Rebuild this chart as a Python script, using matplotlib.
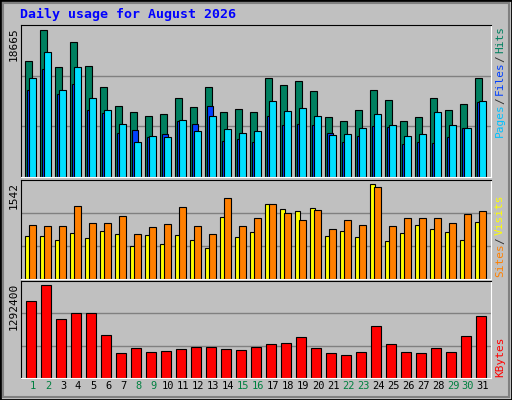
import numpy as np
import matplotlib
matplotlib.use("Agg")
import matplotlib.pyplot as plt
from matplotlib.patches import Rectangle

# ─────────────────────────────────────────────
# DATA
# ─────────────────────────────────────────────
days = list(range(1, 32))
weekend_days = [1, 2, 8, 9, 15, 16, 22, 23, 29, 30]

hits = [14285, 18091, 13548, 16618, 13671, 11092, 8759, 8022, 7531, 7777, 9741,
        8636, 11092, 8022, 8391, 8022, 12197, 11338, 11829, 10601, 7408, 6917,
        8268, 10724, 9496, 6917, 7408, 9741, 8268, 9005, 12197]
files = [12197, 15390, 10724, 13548, 9741, 8268, 6549, 4339, 5075, 4953, 7040,
         5689, 7531, 5935, 5444, 5689, 9373, 8145, 8513, 7531, 5198, 5321,
         6058, 7777, 6426, 5075, 5321, 8022, 6426, 6058, 9373]
pages = [10724, 13302, 10233, 11460, 8268, 7900, 5444, 5812, 4953, 5321, 6917,
         6549, 8759, 4461, 4707, 4339, 7531, 6426, 6549, 6426, 5444, 4339,
         5075, 6303, 6180, 4093, 4339, 4216, 4953, 6058, 9250]
visits = [670, 670, 606, 718, 638, 750, 702, 510, 686, 542, 686, 606, 479, 973,
          654, 734, 1164, 1085, 1053, 1101, 670, 750, 654, 1483, 590, 718, 845,
          782, 734, 606, 893]
sites = [845, 829, 829, 1133, 877, 877, 989, 702, 813, 861, 1117, 829, 702, 1260,
         829, 957, 1164, 1021, 925, 1069, 782, 925, 845, 1436, 829, 957, 957,
         957, 877, 1005, 1053]
kbytes = [1025018, 1238935, 784362, 864580, 864580, 570445, 329788, 396637,
          343158, 356528, 383268, 410007, 410007, 383268, 369898, 410007, 450117,
          463486, 543705, 396637, 329788, 303049, 343158, 690773, 450117, 343158,
          329788, 396637, 343158, 557075, 824471]

max_hits = 18665
max_sites = 1542
max_kbytes = 1292400

BG = '#C0C0C0'
W, H = 512, 400
MONO = 'DejaVu Sans Mono'

fig = plt.figure(figsize=(W / 100, H / 100), dpi=100, facecolor=BG)

# outer frame
fig.patches.append(Rectangle((0, 0), 1, 1, transform=fig.transFigure,
                             fill=False, edgecolor='black', linewidth=2))
fig.patches.append(Rectangle((3 / W, 3 / H), 1 - 6 / W, 1 - 6 / H, transform=fig.transFigure,
                             fill=False, edgecolor='#808080', linewidth=1.5))


def px_axes(x0, y0, x1, y1):
    """axes from pixel box (top-left origin)"""
    ax = fig.add_axes([x0 / W, 1 - y1 / H, (x1 - x0) / W, (y1 - y0) / H])
    ax.set_facecolor(BG)
    ax.set_xlim(0, (x1 - x0) / 15)
    ax.set_xticks([])
    ax.set_yticks([])
    for side in ['top', 'left']:
        ax.spines[side].set_color('black')
    for side in ['bottom', 'right']:
        ax.spines[side].set_color('white')
    return ax


def grid(ax, top):
    for g in (1, 2):
        ax.axhline(top * g / 3, color='#808080', linewidth=1, zorder=0)


x = np.array(days) - 1
kw = dict(align='edge', edgecolor='black', linewidth=0.8)

# top: hits / files / pages
ax1 = px_axes(21, 25, 491, 177)
ax1.set_ylim(0, max_hits)
grid(ax1, max_hits)
ax1.bar(x + 0.287, hits, 0.47, color='#008060', **kw)
ax1.bar(x + 0.42, pages, 0.4, color='#0040FF', **kw)
ax1.bar(x + 0.553, files, 0.47, color='#00E0FF', **kw)

# middle: visits / sites
ax2 = px_axes(21, 180, 491, 279)
ax2.set_ylim(0, max_sites)
grid(ax2, max_sites)
ax2.bar(x + 0.287, visits, 0.3, color='#FFFF00', **kw)
ax2.bar(x + 0.553, sites, 0.47, color='#FF8000', **kw)

# bottom: kbytes
ax3 = px_axes(21, 281, 491, 378)
ax3.set_ylim(0, max_kbytes)
grid(ax3, max_kbytes)
ax3.bar(x + 0.333, kbytes, 0.667, color='#FF0000', **kw)

# day labels
for d in days:
    col = '#008040' if d in weekend_days else 'black'
    ax3.text(d - 1 + 0.8, -0.03, str(d), transform=ax3.get_xaxis_transform(),
             ha='center', va='top', fontsize=7.5, color=col, family=MONO)

# title
fig.text(20 / W, 1 - 14 / H, 'Daily usage for August 2026', color='#0000FF',
         fontsize=9.5, fontweight='bold', family=MONO, va='center', ha='left')

# max labels (rotated)
for lbl, ytop in [(str(max_hits), 27), (str(max_sites), 182), (str(max_kbytes), 283)]:
    fig.text(14 / W, 1 - ytop / H, lbl, rotation=90, fontsize=8, family=MONO,
             ha='center', va='top')


def legend(parts, ybottom):
    """stacked rotated texts, bottom to top"""
    y = ybottom
    for txt, col in parts:
        fig.text(500 / W, 1 - y / H, txt, rotation=90, fontsize=8, family=MONO,
                 color=col, ha='center', va='bottom')
        y -= len(txt) * 6.3 + 2


legend([('Pages', '#00C0FF'), ('/', '#303030'), ('Files', '#0040FF'),
        ('/', '#303030'), ('Hits', '#008060')], 137)
legend([('Sites', '#FF8000'), ('/', '#303030'), ('Visits', '#FFFF00')], 277)
legend([('KBytes', '#FF0000')], 377)

fig.savefig('out.png', dpi=100, facecolor=BG)
